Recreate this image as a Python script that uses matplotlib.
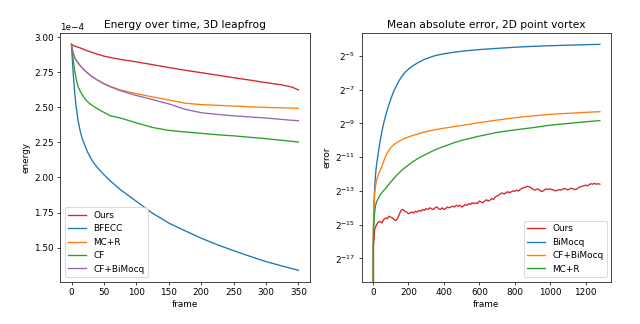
import numpy as np
import matplotlib
matplotlib.use("Agg")
import matplotlib.pyplot as plt
from matplotlib.ticker import NullLocator, MultipleLocator

# ---- left: energy over time, 3D leapfrog (values in units of 1e-4) ----
frames_l = [0, 1, 2, 3, 5, 7, 10, 13, 16, 20, 25, 30, 35, 40, 50, 60, 75, 100,
            125, 150, 175, 200, 225, 250, 275, 300, 325, 340, 350]
ours_e = [2.95, 2.948, 2.945, 2.942, 2.938, 2.934, 2.93, 2.925, 2.92, 2.912,
          2.903, 2.895, 2.887, 2.88, 2.866, 2.856, 2.843, 2.825, 2.805, 2.785,
          2.765, 2.748, 2.73, 2.712, 2.695, 2.677, 2.66, 2.645, 2.625]
bfecc_e = [2.95, 2.87, 2.79, 2.72, 2.60, 2.51, 2.41, 2.34, 2.285, 2.235, 2.18,
           2.135, 2.10, 2.07, 2.02, 1.975, 1.915, 1.83, 1.745, 1.675, 1.62,
           1.567, 1.52, 1.478, 1.438, 1.40, 1.368, 1.35, 1.338]
mcr_e = [2.95, 2.925, 2.90, 2.88, 2.855, 2.838, 2.818, 2.80, 2.785, 2.765,
         2.745, 2.725, 2.71, 2.695, 2.67, 2.65, 2.625, 2.598, 2.575, 2.553,
         2.53, 2.52, 2.515, 2.51, 2.505, 2.50, 2.497, 2.495, 2.494]
cf_e = [2.95, 2.90, 2.86, 2.82, 2.76, 2.71, 2.65, 2.62, 2.595, 2.565, 2.54,
        2.52, 2.505, 2.49, 2.465, 2.44, 2.425, 2.39, 2.357, 2.336, 2.325,
        2.315, 2.305, 2.297, 2.287, 2.277, 2.265, 2.258, 2.253]
cfbi_e = [2.95, 2.925, 2.90, 2.88, 2.855, 2.838, 2.818, 2.80, 2.785, 2.765,
          2.745, 2.725, 2.71, 2.695, 2.668, 2.647, 2.62, 2.585, 2.556, 2.525,
          2.487, 2.462, 2.45, 2.44, 2.432, 2.424, 2.414, 2.408, 2.405]

# ---- right: mean absolute error, 2D point vortex (log2 of error) ----
frames_r = [0, 1, 2, 4, 7, 10, 15, 20, 25, 30, 40, 50, 60, 70, 80, 90, 100,
            110, 120, 140, 160, 180, 200, 225, 250, 275, 300, 350, 400, 450,
            500, 600, 700, 800, 900, 1000, 1100, 1200, 1280]
bimocq_log2 = [-np.inf, -16.8, -15.8, -14.5, -13.4, -12.7, -11.95, -11.45, -11.1,
               -10.75, -10.05, -9.5, -9.0, -8.6, -8.22, -7.88, -7.58, -7.28, -7.02,
               -6.6, -6.25, -5.98, -5.78, -5.58, -5.42, -5.28, -5.16, -4.98, -4.87,
               -4.79, -4.72, -4.62, -4.55, -4.48, -4.43, -4.39, -4.36, -4.33, -4.31]
cfbimocq_log2 = [-np.inf, -16.5, -15.6, -14.5, -13.6, -13.1, -12.65, -12.4, -12.2,
                 -12.05, -11.8, -11.55, -11.25, -10.98, -10.75, -10.6, -10.45,
                 -10.33, -10.24, -10.1, -9.98, -9.88, -9.8, -9.71, -9.63, -9.55,
                 -9.48, -9.37, -9.28, -9.2, -9.12, -8.95, -8.8, -8.66, -8.55,
                 -8.46, -8.4, -8.34, -8.3]
mcr_log2 = [-np.inf, -17.7, -16.3, -15.2, -14.6, -14.2, -13.85, -13.65, -13.55,
            -13.45, -13.25, -13.1, -12.98, -12.86, -12.74, -12.6, -12.47, -12.35,
            -12.23, -12.0, -11.8, -11.62, -11.46, -11.27, -11.1, -10.95, -10.82,
            -10.56, -10.36, -10.17, -10.0, -9.75, -9.53, -9.38, -9.25, -9.1, -9.0,
            -8.9, -8.83]

ours_frames = [0, 3] + list(range(10, 1281, 10))
ours_log2 = [-np.inf, -16.3,
             -15.25, -15.0, -14.85, -14.8, -14.9, -14.7, -14.6, -14.65, -14.5, -14.55,
             -14.6, -14.7, -14.75, -14.6, -14.35, -14.12, -14.1, -14.2, -14.25, -14.35,
             -14.3, -14.25, -14.3, -14.2, -14.25, -14.15, -14.2, -14.1, -14.15, -14.05,
             -14.1, -14.0, -14.05, -14.1, -14.0, -13.95, -14.05, -14.1, -14.0, -14.1,
             -14.05, -13.95, -14.0, -13.95, -13.9, -13.95, -13.85, -13.9, -13.85, -13.95,
             -13.9, -13.8, -13.85, -13.75, -13.8, -13.7, -13.75, -13.7, -13.75, -13.6,
             -13.65, -13.7, -13.6, -13.52, -13.6, -13.55, -13.45, -13.5, -13.35, -13.3,
             -13.25, -13.15, -13.12, -13.18, -13.1, -13.05, -13.1, -13.05, -13.0, -13.02,
             -12.95, -13.0, -12.92, -12.85, -12.8, -12.78, -12.72, -12.75, -12.8, -12.88,
             -12.95, -12.92, -12.88, -12.95, -13.03, -13.0, -12.92, -12.88, -12.9, -12.88,
             -12.92, -12.95, -13.0, -12.95, -12.92, -12.95, -12.9, -12.85, -12.9, -12.93,
             -12.88, -12.84, -12.88, -12.92, -12.88, -12.8, -12.75, -12.72, -12.7, -12.65,
             -12.7, -12.62, -12.57, -12.6, -12.55, -12.6, -12.57, -12.6]

fig, (ax1, ax2) = plt.subplots(1, 2, figsize=(10, 5.0625), dpi=64)
fig.subplots_adjust(left=0.094, right=0.955, bottom=0.131, top=0.898, wspace=0.208)

scale = 1e-4
ax1.plot(frames_l, np.array(ours_e) * scale, color="C3", label="Ours")
ax1.plot(frames_l, np.array(bfecc_e) * scale, color="C0", label="BFECC")
ax1.plot(frames_l, np.array(mcr_e) * scale, color="C1", label="MC+R")
ax1.plot(frames_l, np.array(cf_e) * scale, color="C2", label="CF")
ax1.plot(frames_l, np.array(cfbi_e) * scale, color="C4", label="CF+BiMocq")
ax1.yaxis.set_major_locator(MultipleLocator(0.25e-4))
ax1.ticklabel_format(axis="y", style="sci", scilimits=(0, 0))
ax1.set_title("Energy over time, 3D leapfrog")
ax1.set_xlabel("frame")
ax1.set_ylabel("energy")
ax1.legend(loc="lower left")

ax2.plot(ours_frames, 2.0 ** np.array(ours_log2), color="C3", label="Ours")
ax2.plot(frames_r, 2.0 ** np.array(bimocq_log2), color="C0", label="BiMocq")
ax2.plot(frames_r, 2.0 ** np.array(cfbimocq_log2), color="C1", label="CF+BiMocq")
ax2.plot(frames_r, 2.0 ** np.array(mcr_log2), color="C2", label="MC+R")
ax2.set_yscale("log", base=2)
ax2.set_yticks([2.0 ** -k for k in (5, 7, 9, 11, 13, 15, 17)])
ax2.yaxis.set_minor_locator(NullLocator())
ax2.set_title("Mean absolute error, 2D point vortex")
ax2.set_xlabel("frame")
ax2.set_ylabel("error")
ax2.legend(loc="lower right")

fig.savefig("out.png", dpi=64)
